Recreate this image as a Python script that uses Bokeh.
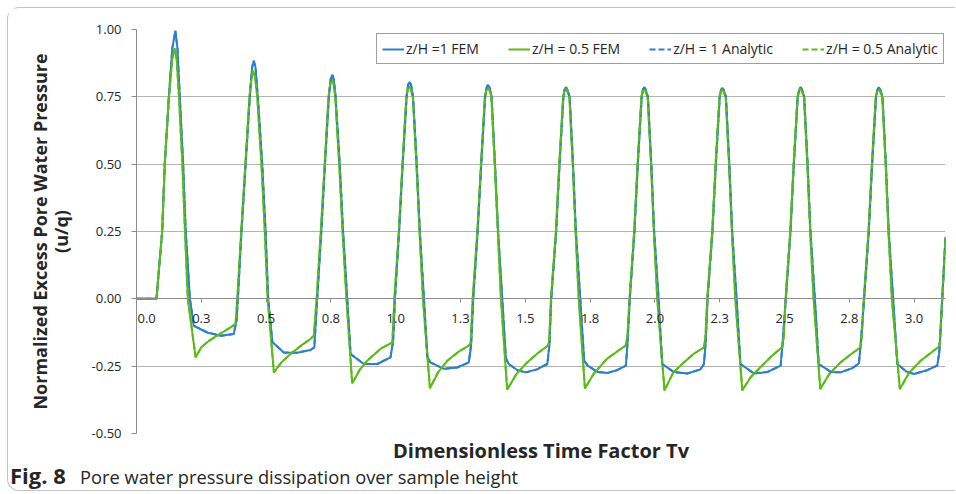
from bokeh.plotting import figure
from bokeh.layouts import column
from bokeh.models import (Range1d, FixedTicker, Legend, LegendItem, Title, Div,
                          CustomJSTickFormatter)
from bokeh.embed import file_html
from bokeh.resources import INLINE

# ---------------- data ----------------
x_ticks = [0.0, 0.25, 0.5, 0.75, 1.0, 1.25, 1.5, 1.75, 2.0, 2.25, 2.5, 2.75, 3.0]
x_tick_labels = ["\u00a0\u00a0\u00a0\u00a0\u00a0\u00a00.0", "0.3", "0.5", "0.8", "1.0", "1.3", "1.5",
                 "1.8", "2.0", "2.3", "2.5", "2.8", "3.0"]
y_ticks = [-0.5, -0.25, 0.0, 0.25, 0.5, 0.75, 1.0]
y_tick_labels = ["-0.50", "-0.25", "0.00", "0.25", "0.50", "0.75", "1.00"]

series_names = ["z/H =1 FEM", "z/H = 0.5 FEM", "z/H = 1 Analytic", "z/H = 0.5 Analytic"]

tv_fem_1 = [
    0.000, 0.077, 0.099, 0.109, 0.125, 0.138, 0.150, 0.158, 0.167, 0.180, 0.190, 0.206, 0.221, 0.273, 0.324, 0.375, 0.386,
    0.391, 0.405, 0.421, 0.437, 0.446, 0.4525, 0.459, 0.468, 0.485, 0.498, 0.508, 0.524, 0.568, 0.620, 0.671, 0.686,
    0.697, 0.713, 0.727, 0.742, 0.749, 0.755, 0.761, 0.768, 0.784, 0.797, 0.813, 0.826, 0.877, 0.929, 0.980, 0.990,
    0.997, 1.013, 1.027, 1.042, 1.048, 1.0535, 1.059, 1.067, 1.081, 1.093, 1.109, 1.122, 1.134, 1.186, 1.237, 1.282, 1.291,
    1.299, 1.316, 1.330, 1.345, 1.351, 1.356, 1.362, 1.370, 1.383, 1.395, 1.411, 1.425, 1.436, 1.470, 1.501, 1.545, 1.585, 1.593,
    1.600, 1.619, 1.632, 1.647, 1.652, 1.657, 1.662, 1.671, 1.684, 1.695, 1.712, 1.727, 1.741, 1.779, 1.818, 1.856, 1.888, 1.894,
    1.903, 1.921, 1.934, 1.949, 1.954, 1.959, 1.964, 1.973, 1.986, 1.997, 2.014, 2.028, 2.073, 2.125, 2.176, 2.189, 2.196,
    2.203, 2.222, 2.235, 2.250, 2.255, 2.260, 2.265, 2.274, 2.287, 2.298, 2.315, 2.330, 2.382, 2.433, 2.485, 2.492,
    2.505, 2.523, 2.536, 2.551, 2.557, 2.562, 2.567, 2.576, 2.589, 2.600, 2.617, 2.632, 2.680, 2.716, 2.760, 2.787, 2.794,
    2.807, 2.825, 2.838, 2.853, 2.859, 2.864, 2.869, 2.878, 2.891, 2.902, 2.919, 2.935, 2.970, 2.999, 3.050, 3.089, 3.097, 3.121,
]
u_fem_1 = [
    0.0, 0.0, 0.25, 0.5, 0.75, 0.93, 0.995, 0.93, 0.75, 0.5, 0.25, 0.0, -0.10, -0.125, -0.137, -0.131, -0.08,
    0.0, 0.25, 0.5, 0.75, 0.86, 0.884, 0.86, 0.75, 0.5, 0.25, 0.0, -0.16, -0.199, -0.20, -0.19, -0.18,
    0.0, 0.25, 0.5, 0.75, 0.815, 0.832, 0.815, 0.75, 0.5, 0.25, 0.0, -0.205, -0.242, -0.242, -0.217, -0.156,
    0.0, 0.25, 0.5, 0.75, 0.795, 0.805, 0.795, 0.75, 0.5, 0.25, 0.0, -0.215, -0.236, -0.26, -0.255, -0.236, -0.17,
    0.0, 0.25, 0.5, 0.75, 0.785, 0.795, 0.785, 0.75, 0.5, 0.25, 0.0, -0.22, -0.242, -0.265, -0.273, -0.262, -0.242, -0.17,
    0.0, 0.25, 0.5, 0.75, 0.778, 0.785, 0.778, 0.75, 0.5, 0.25, 0.0, -0.23, -0.248, -0.272, -0.275, -0.264, -0.248, -0.167,
    0.0, 0.25, 0.5, 0.75, 0.778, 0.785, 0.778, 0.75, 0.5, 0.25, 0.0, -0.242, -0.272, -0.277, -0.262, -0.242, -0.16,
    0.0, 0.25, 0.5, 0.75, 0.776, 0.783, 0.776, 0.75, 0.5, 0.25, 0.0, -0.242, -0.277, -0.272, -0.248, -0.17,
    0.0, 0.25, 0.5, 0.75, 0.778, 0.785, 0.778, 0.75, 0.5, 0.25, 0.0, -0.242, -0.272, -0.273, -0.258, -0.24, -0.165,
    0.0, 0.25, 0.5, 0.75, 0.778, 0.785, 0.778, 0.75, 0.5, 0.25, 0.0, -0.242, -0.27, -0.279, -0.265, -0.248, -0.2, 0.227,
]

tv_fem_05 = [
    0.000, 0.077, 0.099, 0.109, 0.125, 0.138, 0.147, 0.155, 0.164, 0.177, 0.187, 0.198, 0.228, 0.250, 0.281, 0.330, 0.363, 0.382,
    0.389, 0.404, 0.420, 0.436, 0.444, 0.450, 0.457, 0.466, 0.482, 0.495, 0.506, 0.530, 0.560, 0.594, 0.640, 0.671, 0.684,
    0.695, 0.711, 0.726, 0.741, 0.748, 0.754, 0.760, 0.767, 0.782, 0.795, 0.810, 0.832, 0.860, 0.890, 0.941, 0.987,
    0.995, 1.012, 1.026, 1.041, 1.047, 1.052, 1.058, 1.066, 1.080, 1.092, 1.105, 1.132, 1.165, 1.199, 1.240, 1.282, 1.289,
    1.297, 1.315, 1.329, 1.344, 1.350, 1.355, 1.361, 1.369, 1.382, 1.394, 1.406, 1.430, 1.465, 1.507, 1.550, 1.587, 1.592,
    1.599, 1.618, 1.631, 1.646, 1.651, 1.656, 1.661, 1.670, 1.683, 1.694, 1.706, 1.730, 1.764, 1.816, 1.861, 1.887, 1.894,
    1.902, 1.920, 1.933, 1.948, 1.953, 1.958, 1.963, 1.972, 1.985, 1.996, 2.009, 2.037, 2.070, 2.105, 2.150, 2.189, 2.195,
    2.202, 2.221, 2.234, 2.249, 2.254, 2.259, 2.264, 2.273, 2.286, 2.297, 2.310, 2.337, 2.370, 2.407, 2.453, 2.491, 2.497,
    2.504, 2.522, 2.535, 2.550, 2.556, 2.561, 2.566, 2.575, 2.588, 2.599, 2.612, 2.638, 2.672, 2.716, 2.760, 2.793, 2.798,
    2.806, 2.824, 2.837, 2.852, 2.858, 2.863, 2.868, 2.877, 2.890, 2.901, 2.914, 2.945, 2.980, 3.025, 3.065, 3.095, 3.100, 3.121,
]
u_fem_05 = [
    0.0, 0.0, 0.25, 0.5, 0.75, 0.89, 0.93, 0.89, 0.75, 0.5, 0.25, 0.0, -0.217, -0.18, -0.155, -0.125, -0.106, -0.093,
    0.0, 0.25, 0.5, 0.75, 0.825, 0.847, 0.825, 0.75, 0.5, 0.25, 0.0, -0.273, -0.235, -0.205, -0.17, -0.149, -0.137,
    0.0, 0.25, 0.5, 0.75, 0.80, 0.814, 0.80, 0.75, 0.5, 0.25, 0.0, -0.314, -0.265, -0.23, -0.186, -0.162,
    0.0, 0.25, 0.5, 0.75, 0.78, 0.789, 0.78, 0.75, 0.5, 0.25, 0.0, -0.332, -0.27, -0.23, -0.198, -0.174, -0.165,
    0.0, 0.25, 0.5, 0.75, 0.777, 0.785, 0.777, 0.75, 0.5, 0.25, 0.0, -0.338, -0.28, -0.236, -0.2, -0.174, -0.16,
    0.0, 0.25, 0.5, 0.75, 0.773, 0.78, 0.773, 0.75, 0.5, 0.25, 0.0, -0.333, -0.278, -0.222, -0.191, -0.174, -0.14,
    0.0, 0.25, 0.5, 0.75, 0.773, 0.78, 0.773, 0.75, 0.5, 0.25, 0.0, -0.34, -0.275, -0.242, -0.204, -0.18, -0.14,
    0.0, 0.25, 0.5, 0.75, 0.771, 0.778, 0.771, 0.75, 0.5, 0.25, 0.0, -0.34, -0.29, -0.254, -0.21, -0.18, -0.14,
    0.0, 0.25, 0.5, 0.75, 0.773, 0.78, 0.773, 0.75, 0.5, 0.25, 0.0, -0.335, -0.28, -0.236, -0.203, -0.18, -0.14,
    0.0, 0.25, 0.5, 0.75, 0.773, 0.78, 0.773, 0.75, 0.5, 0.25, 0.0, -0.335, -0.275, -0.23, -0.2, -0.178, -0.16, 0.23,
]

# analytic solutions coincide with the FEM curves at this scale
tv_analytic_1 = list(tv_fem_1)
u_analytic_1 = list(u_fem_1)
tv_analytic_05 = list(tv_fem_05)
u_analytic_05 = list(u_fem_05)

x_title = "Dimensionless Time Factor Tv"
y_title_1 = "Normalized Excess Pore Water Pressure"
y_title_2 = "(u/q)"
caption_bold = "Fig. 8"
caption_text = "Pore water pressure dissipation over sample height"

# ---------------- styling ----------------
BLUE = "#2d7fc9"
GREEN = "#5cbc16"
GRID = "#b4b4b4"
AXIS = "#8c8c8c"
TXT = "#262626"
FONT = "Open Sans"

LOOKUP = ("const i = tv.findIndex(t => Math.abs(t - tick) < 1e-9); "
          "return i >= 0 ? lab[i] : '';")

p = figure(width=947, height=456, output_backend="svg", toolbar_location=None,
           x_range=Range1d(0, 3.121), y_range=Range1d(-0.5, 1.0),
           min_border_left=128, min_border_right=10, min_border_top=21, min_border_bottom=30)
p.outline_line_color = None
p.background_fill_color = "white"
p.border_fill_color = "white"

p.xgrid.visible = False
p.ygrid.ticker = FixedTicker(ticks=y_ticks)
p.ygrid.grid_line_color = GRID
p.ygrid.grid_line_width = 1

p.yaxis.ticker = FixedTicker(ticks=y_ticks)
p.yaxis.formatter = CustomJSTickFormatter(args=dict(tv=y_ticks, lab=y_tick_labels), code=LOOKUP)
p.yaxis.axis_line_color = AXIS
p.yaxis.major_tick_line_color = AXIS
p.yaxis.major_tick_out = 5
p.yaxis.major_tick_in = 0
p.yaxis.minor_tick_line_color = None
p.yaxis.major_label_standoff = 10
p.yaxis.major_label_text_font = FONT
p.yaxis.major_label_text_font_size = "13px"
p.yaxis.major_label_text_color = TXT
p.yaxis.axis_label = y_title_1 + "\n" + y_title_2
p.yaxis.axis_label_text_font = FONT
p.yaxis.axis_label_text_font_style = "bold"
p.yaxis.axis_label_text_font_size = "18px"
p.yaxis.axis_label_text_color = TXT
p.yaxis.axis_label_text_line_height = 0.85
p.yaxis.axis_label_standoff = 16

p.xaxis.fixed_location = 0
p.xaxis.ticker = FixedTicker(ticks=x_ticks)
p.xaxis.formatter = CustomJSTickFormatter(args=dict(tv=x_ticks, lab=x_tick_labels), code=LOOKUP)
p.xaxis.axis_line_color = AXIS
p.xaxis.major_tick_line_color = AXIS
p.xaxis.major_tick_out = 4
p.xaxis.major_tick_in = 0
p.xaxis.minor_tick_line_color = None
p.xaxis.major_label_standoff = 6
p.xaxis.major_label_text_font = FONT
p.xaxis.major_label_text_font_size = "13px"
p.xaxis.major_label_text_color = TXT

r1 = p.line(tv_fem_1, u_fem_1, line_color=BLUE, line_width=2)
r2 = p.line(tv_fem_05, u_fem_05, line_color=GREEN, line_width=2)
r3 = p.line(tv_analytic_1, u_analytic_1, line_color=BLUE, line_width=2, line_dash="6 3")
r4 = p.line(tv_analytic_05, u_analytic_05, line_color=GREEN, line_width=2, line_dash="6 3")

legend = Legend(items=[LegendItem(label=series_names[0], renderers=[r1]),
                       LegendItem(label=series_names[1], renderers=[r2]),
                       LegendItem(label=series_names[2], renderers=[r3]),
                       LegendItem(label=series_names[3], renderers=[r4])],
                orientation="horizontal", location=(240, 369),
                border_line_color="#404040", border_line_width=1,
                background_fill_color="white", background_fill_alpha=1,
                label_text_font=FONT, label_text_font_size="14px", label_text_color=TXT,
                glyph_width=22, glyph_height=14, label_height=16, label_standoff=2,
                spacing=29, padding=5, margin=0)
p.add_layout(legend)

p.add_layout(Title(text=x_title, align="center", standoff=2,
                   text_font=FONT, text_font_style="bold", text_font_size="20px",
                   text_color=TXT), "below")

caption = Div(text=f"<span style='font-weight:bold;font-size:22px'>{caption_bold}</span>"
                   f"&nbsp;&nbsp;&nbsp;{caption_text}",
              width=947, height=26, margin=(0, 0, 0, 0),
              styles={"font-family": FONT, "font-size": "18.3px", "color": TXT,
                      "padding-left": "2px", "line-height": "22px"})

layout = column(p, caption, spacing=0)
layout.styles = {"margin-left": "7px", "margin-top": "7px",
                 "border-left": "1px solid #c4c4c4", "border-top": "1px solid #c4c4c4",
                 "border-bottom": "1px solid #c4c4c4", "border-radius": "12px 0 0 12px"}

open("out.html", "w").write(file_html(layout, INLINE))
